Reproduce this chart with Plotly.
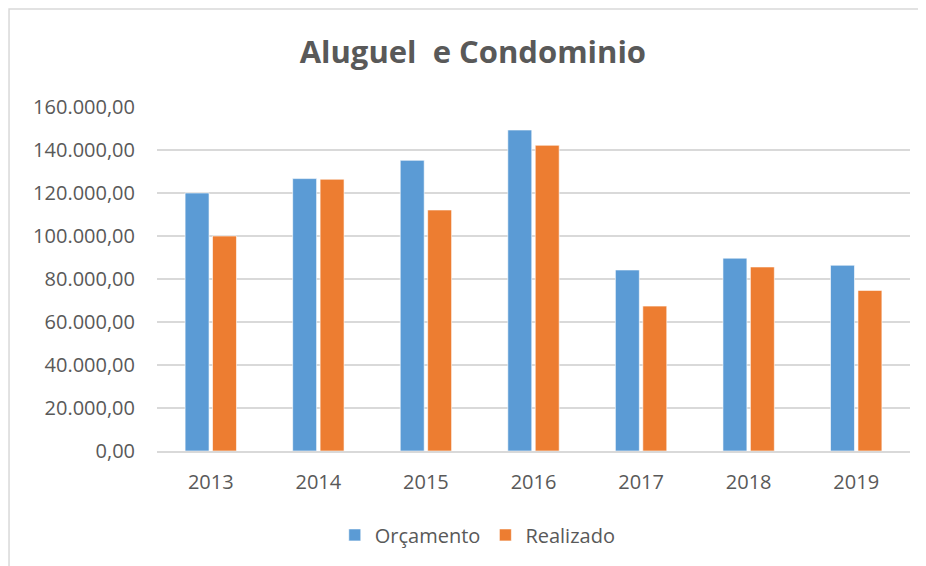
import plotly.graph_objects as go

categories = ["2013", "2014", "2015", "2016", "2017", "2018", "2019"]
orcamento = [120000, 126700, 135200, 149300, 84200, 89700, 86400]
realizado = [100000, 126400, 112100, 142200, 67400, 85600, 74700]
tick_vals = [0, 20000, 40000, 60000, 80000, 100000, 120000, 140000, 160000]
tick_text = ["0,00", "20.000,00", "40.000,00", "60.000,00", "80.000,00",
             "100.000,00", "120.000,00", "140.000,00", "160.000,00"]

FONT = "Open Sans"
TXT = "#595959"

fig = go.Figure()
fig.add_trace(go.Bar(name="Orçamento", x=categories, y=orcamento,
                     marker=dict(color="#5B9BD5", line=dict(color="rgba(255,255,255,0.6)", width=1))))
fig.add_trace(go.Bar(name="Realizado", x=categories, y=realizado,
                     marker=dict(color="#ED7D31", line=dict(color="rgba(255,255,255,0.6)", width=1))))

fig.update_layout(
    width=926, height=566,
    margin=dict(l=149, r=24, t=99, b=123),
    paper_bgcolor="white", plot_bgcolor="white",
    barmode="group", bargap=0.49, bargroupgap=0.127,
    title=dict(text="<b>Aluguel\u00a0 e Condominio</b>", x=0.502, xanchor="center",
               y=0.922, yanchor="middle", font=dict(family=FONT, size=31, color=TXT)),
    font=dict(family=FONT, size=20, color=TXT),
    showlegend=True,
    legend=dict(orientation="h", x=0.426, xanchor="center", y=-0.244, yanchor="middle",
                font=dict(family=FONT, size=20, color=TXT), itemwidth=30,
                traceorder="normal"),
    xaxis=dict(showgrid=False, showline=True, linecolor="#d9d9d9", linewidth=1.5,
               ticks="", ticklabelstandoff=12, tickfont=dict(size=20, color=TXT)),
    yaxis=dict(range=[0, 160000], tickvals=tick_vals, ticktext=tick_text,
               showgrid=True, gridcolor="#d9d9d9", gridwidth=1.5, zeroline=False,
               showline=False, ticks="", ticklabelstandoff=21,
               tickfont=dict(size=20, color=TXT)),
    shapes=[dict(type="rect", xref="paper", yref="paper",
                 x0=-0.1965, x1=1.0133, y0=-0.37, y1=1.285,
                 line=dict(color="#d9d9d9", width=1.5), fillcolor="rgba(0,0,0,0)",
                 layer="below")],
)

fig.write_html("out.html")
